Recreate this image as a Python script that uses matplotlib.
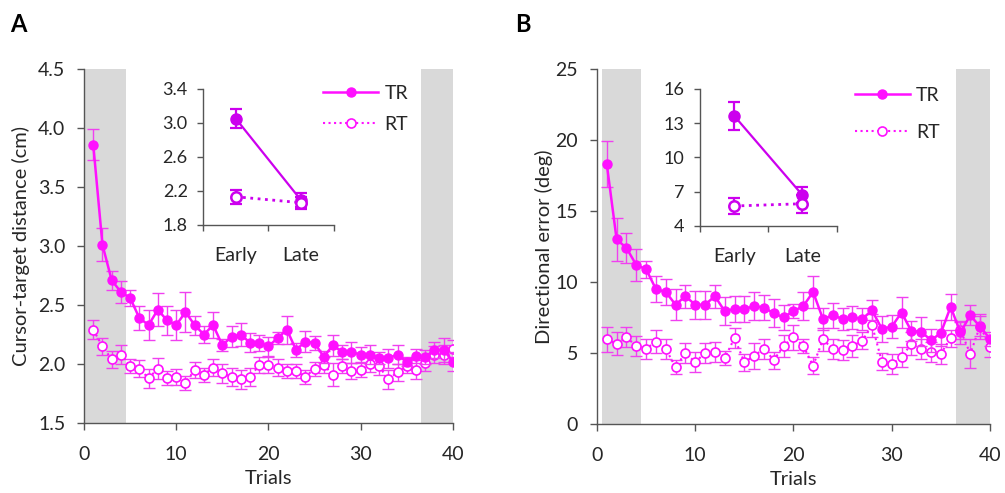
import matplotlib
matplotlib.use("Agg")
import matplotlib.pyplot as plt
import numpy as np

plt.rcParams['font.family'] = ['Lato', 'DejaVu Sans']

trials = np.arange(1, 41)

# Panel A: cursor-target distance (cm)
dist_tr = [3.86, 3.01, 2.71, 2.61, 2.56, 2.39, 2.33, 2.46, 2.37, 2.33,
           2.44, 2.33, 2.25, 2.33, 2.16, 2.23, 2.25, 2.18, 2.18, 2.15,
           2.22, 2.29, 2.12, 2.19, 2.18, 2.06, 2.16, 2.10, 2.10, 2.08,
           2.08, 2.05, 2.05, 2.08, 2.02, 2.07, 2.06, 2.12, 2.12, 2.02]
dist_tr_err = [0.13, 0.14, 0.08, 0.09, 0.07, 0.10, 0.13, 0.14, 0.12, 0.13,
               0.17, 0.08, 0.07, 0.11, 0.05, 0.09, 0.10, 0.08, 0.07, 0.08,
               0.05, 0.12, 0.06, 0.09, 0.06, 0.05, 0.09, 0.06, 0.09, 0.06,
               0.08, 0.05, 0.08, 0.08, 0.04, 0.06, 0.06, 0.07, 0.10, 0.08]
dist_rt = [2.29, 2.15, 2.04, 2.08, 1.98, 1.96, 1.88, 1.96, 1.88, 1.89,
           1.84, 1.95, 1.91, 1.97, 1.92, 1.89, 1.87, 1.89, 1.99, 1.99,
           1.97, 1.94, 1.94, 1.89, 1.96, 1.99, 1.91, 1.98, 1.94, 1.95,
           2.00, 1.98, 1.87, 1.93, 1.98, 1.95, 2.01, 2.08, 2.08, 2.13]
dist_rt_err = [0.08, 0.07, 0.07, 0.08, 0.06, 0.07, 0.08, 0.09, 0.06, 0.07,
               0.06, 0.07, 0.06, 0.07, 0.08, 0.08, 0.08, 0.08, 0.07, 0.07,
               0.07, 0.06, 0.06, 0.06, 0.06, 0.07, 0.10, 0.06, 0.07, 0.06,
               0.07, 0.07, 0.08, 0.07, 0.06, 0.08, 0.07, 0.07, 0.08, 0.07]

# Panel B: directional error (deg)
dir_tr = [18.3, 13.0, 12.4, 11.2, 10.9, 9.5, 9.3, 8.4, 9.0, 8.4,
          8.4, 9.0, 7.95, 8.1, 8.1, 8.3, 8.2, 7.8, 7.5, 7.95,
          8.3, 9.3, 7.4, 7.65, 7.4, 7.5, 7.4, 8.0, 6.7, 6.85,
          7.85, 6.55, 6.5, 5.9, 6.4, 8.25, 6.45, 7.65, 6.85, 6.0]
dir_tr_err = [1.6, 1.5, 1.05, 1.1, 0.6, 0.9, 0.9, 1.1, 0.8, 1.0,
              1.0, 0.8, 1.0, 0.9, 0.9, 1.0, 0.9, 1.0, 0.9, 0.5,
              1.0, 1.1, 0.8, 0.9, 0.8, 0.8, 0.8, 0.7, 0.9, 0.8,
              1.1, 0.7, 1.0, 0.8, 0.9, 0.9, 0.8, 0.7, 0.9, 0.5]
dir_rt = [5.95, 5.65, 6.1, 5.5, 5.3, 5.8, 5.3, 4.0, 5.0, 4.35,
          5.0, 5.1, 4.65, 6.05, 4.35, 4.8, 5.3, 4.5, 5.5, 6.1,
          5.5, 4.1, 5.95, 5.3, 5.2, 5.5, 5.85, 6.95, 4.4, 4.2,
          4.7, 5.65, 5.3, 5.1, 4.95, 6.05, 6.6, 4.95, 6.9, 5.4]
dir_rt_err = [0.9, 0.8, 0.7, 0.7, 0.7, 0.8, 0.7, 0.5, 0.7, 0.7,
              0.7, 0.7, 0.5, 0.7, 0.6, 0.9, 0.7, 0.6, 0.8, 0.9,
              0.5, 0.6, 0.8, 0.7, 0.7, 0.8, 0.6, 0.8, 0.6, 0.7,
              0.7, 0.8, 0.7, 0.7, 0.7, 0.6, 0.6, 1.0, 0.7, 0.7]

# insets: early vs late
phases = ['Early', 'Late']
ins_dist_tr = [3.05, 2.09]
ins_dist_tr_err = [0.11, 0.08]
ins_dist_rt = [2.13, 2.06]
ins_dist_rt_err = [0.08, 0.07]
ins_dir_tr = [13.65, 6.7]
ins_dir_tr_err = [1.25, 0.7]
ins_dir_rt = [5.75, 5.95]
ins_dir_rt_err = [0.7, 0.8]

main_c = '#ff10ff'
err_c = '#f040f0'
ins_c = '#cc00ee'
spine_c = '#555555'
text_c = '#262626'


def style_axes(ax, fs, pad, length):
    for s in ['top', 'right']:
        ax.spines[s].set_visible(False)
    for s in ['left', 'bottom']:
        ax.spines[s].set_color(spine_c)
        ax.spines[s].set_linewidth(1.0)
    ax.tick_params(direction='out', color=spine_c, length=length, width=1.0,
                   labelsize=fs, labelcolor=text_c, pad=pad)


def main_panel(ax, tr, tr_err, rt, rt_err, ylim, yticks, ylabel, bands,
               leg_xy, leg_space, ylpad):
    for b0, b1 in bands:
        ax.axvspan(b0, b1, color='#d9d9d9', lw=0, zorder=0)
    ax.errorbar(trials, rt, yerr=rt_err, fmt='none', ecolor=err_c,
                elinewidth=1.0, capsize=4, capthick=1.0, zorder=2)
    ax.plot(trials, rt, ls=':', color=main_c, lw=1.5, marker='o', ms=6.5,
            mfc='white', mec=main_c, mew=1.2, zorder=3, label='RT')
    ax.errorbar(trials, tr, yerr=tr_err, fmt='none', ecolor=err_c,
                elinewidth=1.0, capsize=4, capthick=1.0, zorder=4)
    ax.plot(trials, tr, ls='-', color=main_c, lw=1.8, marker='o', ms=6.5,
            mfc=main_c, mec=main_c, zorder=5, label='TR')
    ax.set_xlim(0, 40)
    ax.set_ylim(*ylim)
    ax.set_xticks([0, 10, 20, 30, 40])
    ax.set_yticks(yticks)
    style_axes(ax, 14, 8.5, 5)
    ax.tick_params(axis='x', pad=11.5)
    ax.set_xlabel('Trials', fontsize=14.5, color=text_c, labelpad=5)
    ax.set_ylabel(ylabel, fontsize=14.5, color=text_c, labelpad=ylpad)
    h, l = ax.get_legend_handles_labels()
    ax.legend([h[1], h[0]], [l[1], l[0]], loc='upper left',
              bbox_to_anchor=leg_xy, frameon=False, fontsize=14,
              handlelength=2.85, labelspacing=leg_space, handletextpad=0.3,
              borderpad=0, borderaxespad=0, labelcolor=text_c)


def inset_panel(ax, tr, tr_err, rt, rt_err, ylim, yticks):
    xs = np.array([0.5, 1.5])
    ax.errorbar(xs, tr, yerr=tr_err, fmt='none', ecolor=ins_c,
                elinewidth=1.6, capsize=4, capthick=1.6, zorder=2)
    ax.plot(xs, tr, ls='-', color=ins_c, lw=1.6, marker='o', ms=8,
            mfc=ins_c, mec=ins_c, zorder=3)
    ax.errorbar(xs, rt, yerr=rt_err, fmt='none', ecolor=ins_c,
                elinewidth=1.6, capsize=4, capthick=1.6, zorder=4)
    ax.plot(xs, rt, ls=':', color=ins_c, lw=2.0, marker='o', ms=7.5,
            mfc='white', mec=ins_c, mew=1.8, zorder=5)
    ax.set_xlim(0, 2)
    ax.set_ylim(*ylim)
    ax.set_yticks(yticks)
    ax.set_xticks([0, 1, 2])
    ax.set_xticklabels([])
    ax.patch.set_alpha(0)
    style_axes(ax, 13, 6.5, 4.5)
    ax.set_xticks(xs, minor=True)
    ax.set_xticklabels(phases, minor=True, fontsize=14, color=text_c)
    ax.tick_params(axis='x', which='minor', length=0, pad=16)


fig = plt.figure(figsize=(10.05, 4.93), dpi=100)

axA = fig.add_axes([0.0836, 0.142, 0.367, 0.718])
main_panel(axA, dist_tr, dist_tr_err, dist_rt, dist_rt_err, (1.5, 4.5),
           [1.5, 2.0, 2.5, 3.0, 3.5, 4.0, 4.5], 'Cursor-target distance (cm)',
           [(0.15, 4.5), (36.5, 40)], (0.648, 0.955), 0.7, 6)
axA.yaxis.set_major_formatter(matplotlib.ticker.FormatStrFormatter('%.1f'))

axB = fig.add_axes([0.594, 0.140, 0.391, 0.720])
main_panel(axB, dir_tr, dir_tr_err, dir_rt, dir_rt_err, (0, 25),
           [0, 5, 10, 15, 20, 25], 'Directional error (deg)',
           [(0.55, 4.5), (36.5, 40)], (0.656, 0.95), 1.05, 2)

insA = fig.add_axes([0.202, 0.544, 0.130, 0.276])
inset_panel(insA, ins_dist_tr, ins_dist_tr_err, ins_dist_rt, ins_dist_rt_err,
            (1.8, 3.4), [1.8, 2.2, 2.6, 3.0, 3.4])
insA.yaxis.set_major_formatter(matplotlib.ticker.FormatStrFormatter('%.1f'))

insB = fig.add_axes([0.6965, 0.5416, 0.136, 0.278])
inset_panel(insB, ins_dir_tr, ins_dir_tr_err, ins_dir_rt, ins_dir_rt_err,
            (4, 16), [4, 7, 10, 13, 16])

fig.text(0.010, 0.935, 'A', fontsize=17, fontweight='bold', color='black')
fig.text(0.513, 0.935, 'B', fontsize=17, fontweight='bold', color='black')

fig.savefig('out.png', dpi=100)
